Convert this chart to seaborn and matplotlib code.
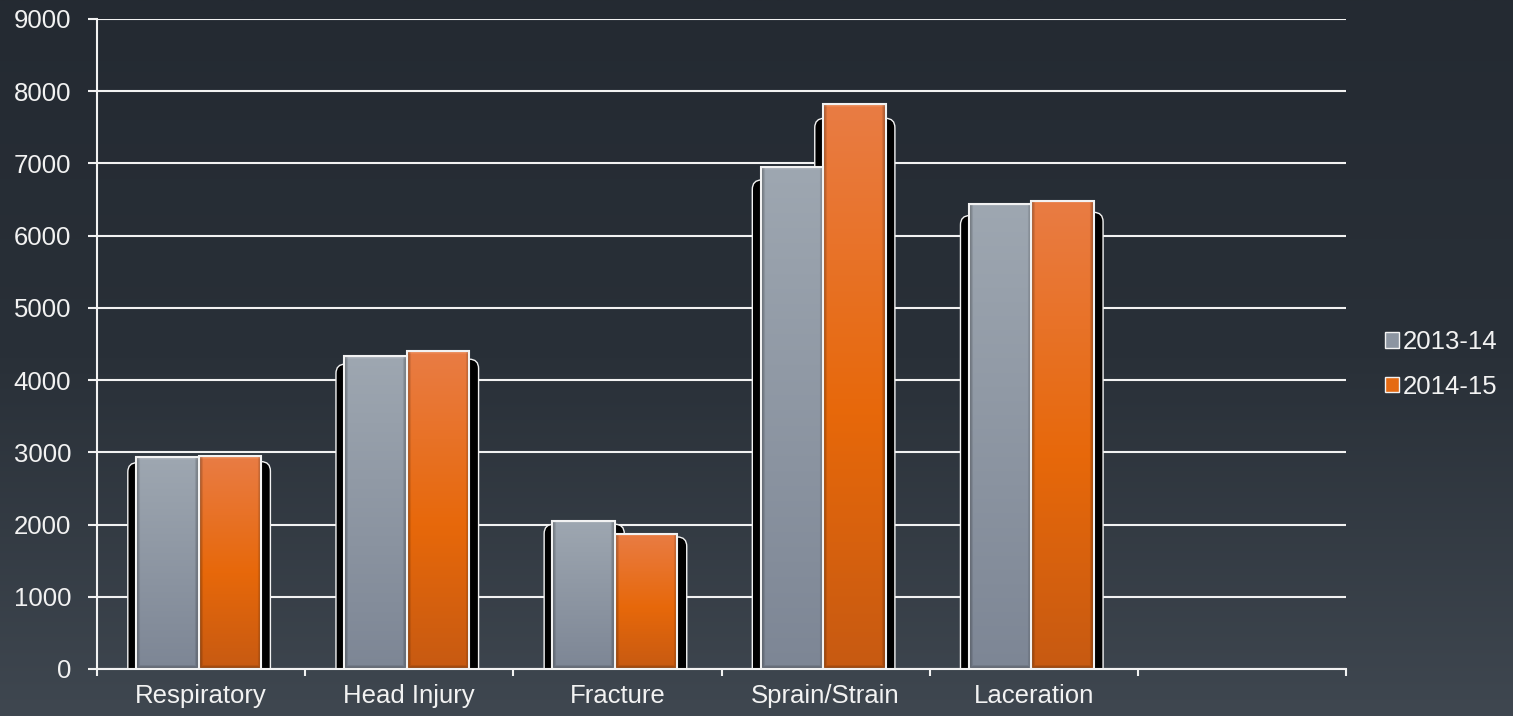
import numpy as np
import pandas as pd
import seaborn as sns
import matplotlib.pyplot as plt
from matplotlib.patches import FancyBboxPatch, Patch
from matplotlib.colors import to_rgb

categories = ["Respiratory", "Head Injury", "Fracture", "Sprain/Strain", "Laceration"]
seasons = ["2013-14", "2014-15"]
cases_1314 = [2930, 4330, 2055, 6945, 6440]
cases_1415 = [2945, 4400, 1875, 7820, 6485]
y_ticks = [0, 1000, 2000, 3000, 4000, 5000, 6000, 7000, 8000, 9000]

df = pd.DataFrame({
    "Category": categories * 2,
    "Season": [seasons[0]] * len(categories) + [seasons[1]] * len(categories),
    "Cases": cases_1314 + cases_1415,
})

GRAY = "#8c95a1"
ORANGE = "#e56a12"
gray_stops = [(0, "#9ea7b1"), (1, "#7d8695")]
orange_stops = [(0, "#e97c44"), (0.55, "#e7680a"), (1, "#c75a12")]
WHITE = "#f2f2f2"
FS = 18.5

sns.set_theme(style="white")
plt.rcParams["font.family"] = ["Liberation Sans", "DejaVu Sans"]

W_PX, H_PX = 1513, 716
fig = plt.figure(figsize=(W_PX / 100, H_PX / 100), dpi=100)
fig.patch.set_facecolor("#2a3038")

# background gradient
bg = fig.add_axes([0, 0, 1, 1], zorder=-10)
t = np.linspace(0, 1, 400)
pos = [0, 0.5, 1]
cols = np.array([to_rgb(c) for c in ["#242a32", "#293038", "#3f4750"]])
grad = np.stack([np.interp(t, pos, cols[:, k]) for k in range(3)], axis=1)
bg.imshow(np.repeat(grad[:, None, :], 2, axis=1), extent=[0, 1, 0, 1], aspect="auto")
bg.set_axis_off()

left, right, top, bottom = 97, 1346, 19, 669
ax = fig.add_axes([left / W_PX, 1 - bottom / H_PX, (right - left) / W_PX, (bottom - top) / H_PX])
ax.set_facecolor("none")

sns.barplot(data=df, x="Category", y="Cases", hue="Season", order=categories,
            hue_order=seasons, palette=[GRAY, ORANGE], width=0.6, saturation=1,
            legend=False, ax=ax)

xlim = (-0.5, 5.5)
ylim = (0, 9000)
px_per_x = (right - left) / (xlim[1] - xlim[0])
px_per_y = (bottom - top) / (ylim[1] - ylim[0])
m_aspect = px_per_x / px_per_y


def bar_image(stops, h_px, w_px):
    H = max(int(h_px), 2)
    W = max(int(w_px), 2)
    tt = np.linspace(0, 1, H)
    p = [s[0] for s in stops]
    c = np.array([to_rgb(s[1]) for s in stops])
    col = np.stack([np.interp(tt, p, c[:, k]) for k in range(3)], axis=1)
    img = np.repeat(col[:, None, :], W, axis=1)
    xs = np.arange(W)
    ys = np.arange(H)
    b = 4.0
    dx = np.minimum(xs, W - 1 - xs)
    shade_x = np.clip(1 - dx / b, 0, 1)
    shade_b = np.clip(1 - (H - 1 - ys) / b, 0, 1)
    shade = np.maximum(shade_x[None, :], shade_b[:, None])
    img = img * (1 - 0.35 * shade[..., None])
    shade_t = np.clip(1 - ys / 3.0, 0, 1)
    img = img + (1 - img) * 0.2 * shade_t[:, None, None]
    return np.clip(img, 0, 1)


for p in list(ax.patches):
    x, w, h = p.get_x(), p.get_width(), p.get_height()
    if np.isnan(h) or h <= 0:
        continue
    x -= 0.012
    p.set_x(x)
    is_gray = np.allclose(p.get_facecolor()[:3], to_rgb(GRAY), atol=0.02)
    stops = gray_stops if is_gray else orange_stops
    # shadow
    sh = FancyBboxPatch((x - 0.04, -400), w + 0.085, 0.975 * h + 400,
                        boxstyle="round,pad=0,rounding_size=0.045",
                        mutation_aspect=m_aspect, fc="black", ec=WHITE, lw=1.0, zorder=2)
    ax.add_patch(sh)
    ax.imshow(bar_image(stops, h * px_per_y, w * px_per_x), extent=(x, x + w, 0, h),
              aspect="auto", zorder=2.5, interpolation="bilinear")
    p.set_facecolor("none")
    p.set_edgecolor(WHITE)
    p.set_linewidth(1.5)
    p.set_zorder(3)

ax.set_xlim(*xlim)
ax.set_ylim(*ylim)
ax.set_yticks(y_ticks)
ax.set_xticks(range(len(categories)))
ax.set_xticklabels(categories)
ax.set_xticks(np.arange(-0.5, 6, 1), minor=True)
ax.set_xlabel("")
ax.set_ylabel("")

ax.yaxis.grid(True, color=WHITE, lw=1.5)
ax.set_axisbelow(True)
for s in ["top", "right"]:
    ax.spines[s].set_visible(False)
for s in ["left", "bottom"]:
    ax.spines[s].set_color(WHITE)
    ax.spines[s].set_linewidth(1.5)
    ax.spines[s].set_zorder(4)

ax.tick_params(axis="y", which="major", direction="out", length=6.5, width=1.5,
               color=WHITE, labelcolor=WHITE, labelsize=FS, pad=12, left=True)
ax.tick_params(axis="x", which="major", length=0, labelcolor=WHITE, labelsize=FS, pad=11)
ax.tick_params(axis="x", which="minor", direction="out", length=5, width=1.5,
               color=WHITE, bottom=True)

handles = [Patch(fc=GRAY, ec=WHITE, lw=1), Patch(fc=ORANGE, ec=WHITE, lw=1)]
leg = fig.legend(handles, seasons, loc="center left", bbox_to_anchor=(0.900, 0.491),
                 frameon=False, handlelength=0.55, handleheight=0.55, handletextpad=0.15,
                 labelspacing=0.8, fontsize=FS, labelcolor=WHITE)

fig.savefig("out.png", dpi=100)
